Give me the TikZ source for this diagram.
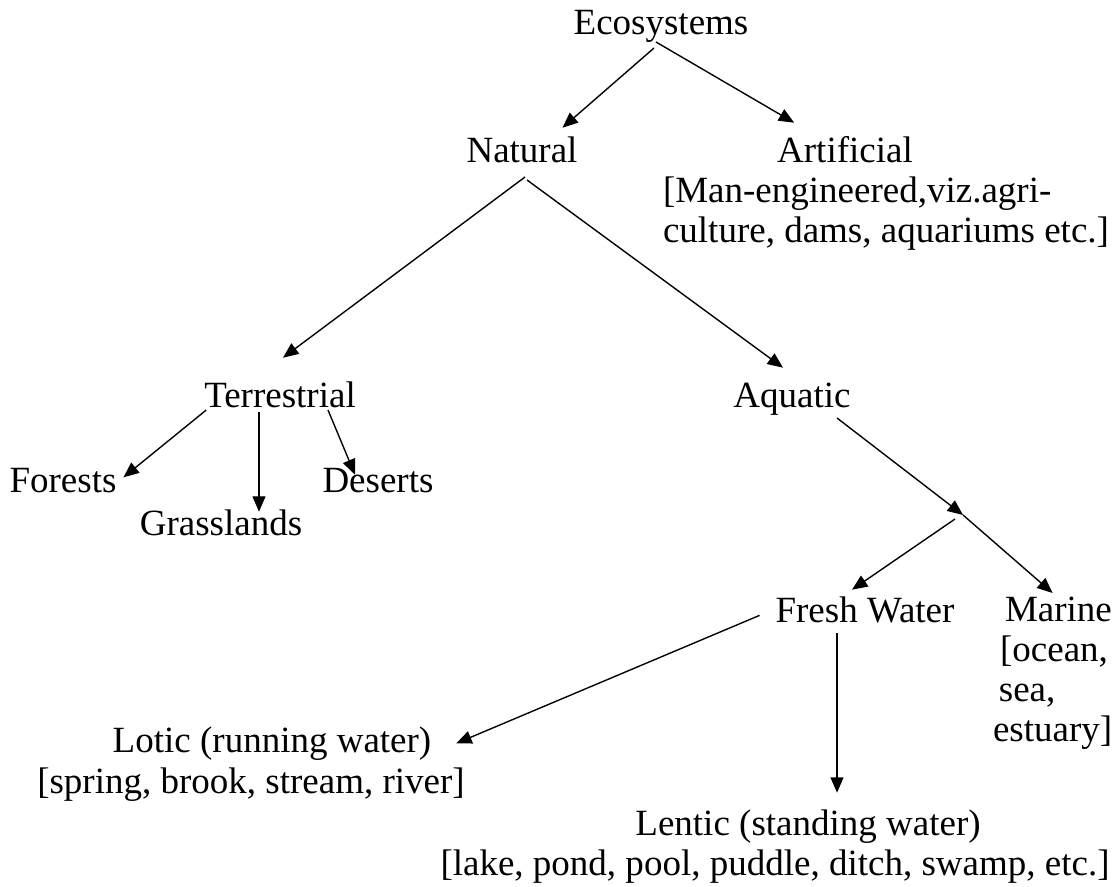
\documentclass[tikz,border=0pt]{standalone}
\usepackage{fontspec}
\setmainfont{Liberation Serif}
\usetikzlibrary{arrows.meta}

\tikzset{
  lbl/.style={anchor=base,inner sep=0pt,outer sep=0pt,text height=8.2pt,text depth=2.6pt},
  blk/.style={anchor=north west,align=left,inner sep=0pt,outer sep=0pt},
  arr/.style={line width=0.45pt,-{Triangle[length=5pt,width=4.2pt]}}
}

\begin{document}
\begin{tikzpicture}[x=0.3243pt,y=-0.3243pt,font=\fontsize{12pt}{13pt}\selectfont]
\useasboundingbox (0,0) rectangle (1117,886);
% top levels
\node[lbl] (eco) at (661,35) {Ecosystems};
\node[lbl] (nat) at (522,163) {Natural};
\node[lbl] (art) at (845,163) {Artificial};
\node[blk] (artnote) at (663,177) {[Man-engineered,viz.agri-\\culture, dams, aquariums etc.]};
\node[lbl] (ter) at (280,407) {Terrestrial};
\node[lbl] (aqu) at (792,407) {Aquatic};
\node[lbl] (forest) at (63,492) {Forests};
\node[lbl] (desert) at (378,492) {Deserts};
\node[lbl] (grass) at (221,535) {Grasslands};
% water
\coordinate (fork) at (963,515);
\node[lbl] (fresh) at (865,622) {Fresh Water};
\node[blk] (marine) at (993,597) {\hspace*{3.9pt}Marine\\\hspace*{2.3pt}[ocean,\\\hspace*{1.9pt}sea,\\estuary]};
\node[lbl] (lotic) at (272,752) {Lotic (running water)};
\node[lbl] (lotnote) at (251,793) {[spring, brook, stream, river]};
\node[lbl] (lentic) at (808,835) {Lentic (standing water)};
\node[lbl] (lennote) at (775,875) {[lake, pond, pool, puddle, ditch, swamp, etc.]};
% arrows
\draw[arr] ([shift={(-7,5)}]eco.south) -- ([shift={(-15,-10)}]nat.north east);
\draw[arr] ([shift={(-5,-1)}]eco.south) -- ([shift={(17,-15)}]art.north west);
\draw[arr] ([shift={(3,6)}]nat.south) -- ([shift={(3,-24)}]ter.north);
\draw[arr] ([shift={(5,9)}]nat.south) -- ([shift={(-9,-14)}]aqu.north);
\draw[arr] ([shift={(2,-5)}]ter.south west) -- ([shift={(7,-6)}]forest.east);
\draw[arr] ([shift={(-21,-3)}]ter.south) -- ([shift={(38,2)}]grass.north);
\draw[arr] ([shift={(48,-5)}]ter.south) -- ([shift={(-23,8)}]desert.north);
\draw[arr] ([shift={(45,3)}]aqu.south) -- (fork);
\draw[arr] (fork) -- ([shift={(0,-4)}]marine.north);
\draw[arr] ([shift={(-8,4)}]fork) -- ([shift={(-13,-7)}]fresh.north);
\draw[arr] ([shift={(-16,2)}]fresh.west) -- ([shift={(25,0)}]lotic.east);
\draw[arr] ([shift={(-28,3)}]fresh.south) -- ([shift={(29,-17)}]lentic.north);
\end{tikzpicture}
\end{document}
